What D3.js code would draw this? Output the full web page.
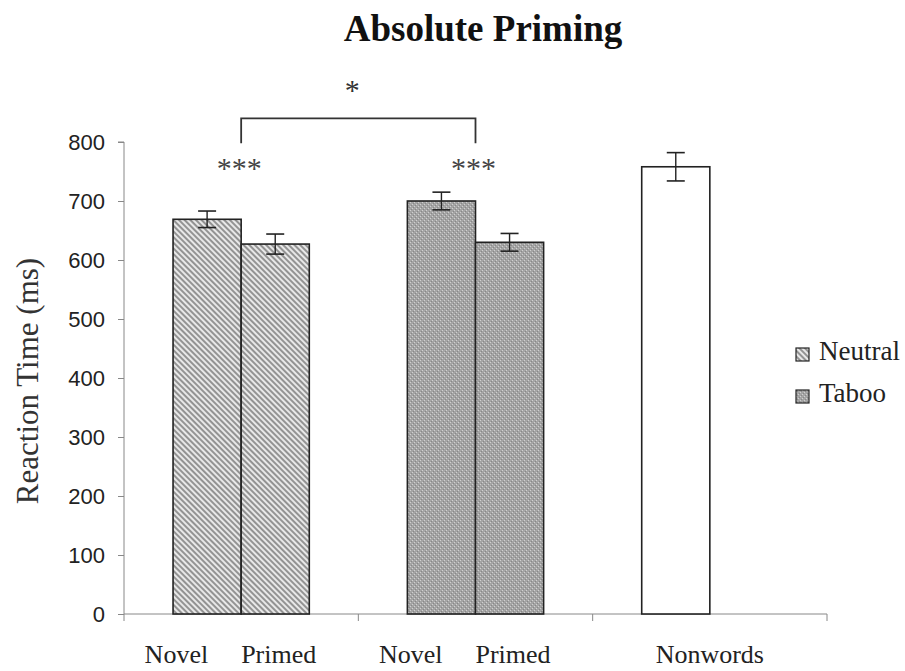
<!DOCTYPE html>
<html><head><meta charset="utf-8">
<script src="https://cdn.jsdelivr.net/npm/d3@7"></script>
<style>body{margin:0;background:#fff}</style>
</head><body>
<script>
const groups = ["Neutral", "Taboo", "Nonwords"];
const conditions = ["Novel", "Primed"];
const neutralMeans = [669, 627];
const neutralErrors = [14, 17];
const tabooMeans = [700, 630];
const tabooErrors = [15, 15];
const nonwordMeans = [758];
const nonwordErrors = [24];
const yTicks = [0, 100, 200, 300, 400, 500, 600, 700, 800];
const legendItems = ["Neutral", "Taboo"];

const W = 905, H = 671;
const svg = d3.select("body").append("svg").attr("width", W).attr("height", H);
const defs = svg.append("defs");

// hatch pattern
const ph = defs.append("pattern").attr("id", "hatch").attr("patternUnits", "userSpaceOnUse")
  .attr("width", 4).attr("height", 4).attr("patternTransform", "rotate(45)");
ph.append("rect").attr("width", 4).attr("height", 4).attr("fill", "#e8e8e8");
ph.append("line").attr("x1", 0).attr("x2", 4).attr("y1", 1).attr("y2", 1).attr("stroke", "#5a5a5a").attr("stroke-width", 1.2);
// dotted pattern
const pd = defs.append("pattern").attr("id", "dots").attr("patternUnits", "userSpaceOnUse")
  .attr("width", 4).attr("height", 4);
pd.append("rect").attr("width", 4).attr("height", 4).attr("fill", "#a4a4a4");
pd.append("rect").attr("x", 0).attr("y", 0).attr("width", 1).attr("height", 1).attr("fill", "#d0d0d0");
pd.append("rect").attr("x", 2).attr("y", 2).attr("width", 1).attr("height", 1).attr("fill", "#d0d0d0");
pd.append("rect").attr("x", 1).attr("y", 3).attr("width", 1).attr("height", 1).attr("fill", "#888");
pd.append("rect").attr("x", 3).attr("y", 1).attr("width", 1).attr("height", 1).attr("fill", "#888");

const fills = {Neutral: "url(#hatch)", Taboo: "url(#dots)", Nonwords: "#fff"};

const x = d3.scaleBand().domain(groups).range([124, 827]).padding(0);
const xs = d3.scaleBand().domain(conditions).range([0, x.bandwidth()]).paddingInner(0).paddingOuter(0.72);
const y = d3.scaleLinear().domain([0, 800]).range([614, 142]);

const data = [];
groups.forEach(g => {
  const m = g === "Neutral" ? neutralMeans : g === "Taboo" ? tabooMeans : nonwordMeans;
  const e = g === "Neutral" ? neutralErrors : g === "Taboo" ? tabooErrors : nonwordErrors;
  m.forEach((v, i) => data.push({g, c: conditions[i], v, e: e[i]}));
});

const serif = "Liberation Serif, Times New Roman, serif";
const sans = "Liberation Sans, Arial, sans-serif";

// title
svg.append("text").attr("x", 483).attr("y", 41).attr("text-anchor", "middle")
  .attr("font-family", serif).attr("font-weight", "bold")
  .attr("font-size", 37).attr("fill", "#111").text("Absolute Priming");

// y axis
const yAxis = d3.axisLeft(y).tickValues(yTicks).tickSize(6).tickPadding(13);
const ga = svg.append("g").attr("transform", "translate(124,0)").call(yAxis);
ga.select(".domain").attr("stroke", "#888").attr("d", `M-6,${y(800)}H0V${y(0)}`);
ga.selectAll(".tick line").attr("stroke", "#888");
ga.selectAll(".tick text").attr("font-family", sans).attr("font-size", 22).attr("fill", "#222");

// x axis
const gx = svg.append("g");
gx.append("line").attr("x1", 124).attr("x2", 827).attr("y1", y(0)).attr("y2", y(0)).attr("stroke", "#888");
const bounds = groups.map(g => x(g)).concat([x(groups[groups.length - 1]) + x.bandwidth()]);
gx.selectAll(".xt").data(bounds).enter().append("line")
  .attr("x1", d => d).attr("x2", d => d).attr("y1", y(0)).attr("y2", y(0) + 7).attr("stroke", "#888");

// bars
svg.selectAll(".bar").data(data).enter().append("rect")
  .attr("x", d => x(d.g) + xs(d.c)).attr("width", xs.bandwidth())
  .attr("y", d => y(d.v)).attr("height", d => y(0) - y(d.v))
  .attr("fill", d => fills[d.g]).attr("stroke", "#222").attr("stroke-width", 1.6);

// error bars
const eb = svg.selectAll(".eb").data(data).enter().append("g")
  .attr("transform", d => `translate(${x(d.g) + xs(d.c) + xs.bandwidth() / 2},0)`);
eb.append("line").attr("y1", d => y(d.v + d.e)).attr("y2", d => y(d.v - d.e)).attr("stroke", "#222").attr("stroke-width", 1.4);
eb.append("line").attr("x1", -9).attr("x2", 9).attr("y1", d => y(d.v + d.e)).attr("y2", d => y(d.v + d.e)).attr("stroke", "#222").attr("stroke-width", 1.6);
eb.append("line").attr("x1", -9).attr("x2", 9).attr("y1", d => y(d.v - d.e)).attr("y2", d => y(d.v - d.e)).attr("stroke", "#222").attr("stroke-width", 1.6);

// x labels
groups.forEach(g => {
  const cx = x(g) + x.bandwidth() / 2;
  if (g === "Nonwords") {
    svg.append("text").attr("x", cx).attr("y", 663).attr("text-anchor", "middle")
      .attr("font-family", serif).attr("font-size", 26).attr("fill", "#222").text(g);
  } else {
    svg.append("text").attr("x", cx - 33).attr("y", 663).attr("text-anchor", "end")
      .attr("font-family", serif).attr("font-size", 26).attr("fill", "#222").text(conditions[0]);
    svg.append("text").attr("x", cx).attr("y", 663).attr("text-anchor", "start")
      .attr("font-family", serif).attr("font-size", 26).attr("fill", "#222").text(conditions[1]);
  }
});

// y label
svg.append("text").attr("transform", "translate(38,381) rotate(-90)").attr("text-anchor", "middle")
  .attr("font-family", serif).attr("font-size", 31).attr("fill", "#333").text("Reaction Time (ms)");

// significance bracket
const bx1 = x("Neutral") + x.bandwidth() / 2, bx2 = x("Taboo") + x.bandwidth() / 2;
svg.append("path").attr("d", `M${bx1},${y(798)}V${y(840)}H${bx2}V${y(798)}`)
  .attr("fill", "none").attr("stroke", "#333").attr("stroke-width", 1.8);
svg.append("text").attr("x", (bx1 + bx2) / 2 - 6).attr("y", 100).attr("text-anchor", "middle")
  .attr("font-family", serif).attr("font-size", 30).attr("fill", "#333").text("*");
[bx1, bx2].forEach(bx => {
  svg.append("text").attr("x", bx - 2).attr("y", 178).attr("text-anchor", "middle")
    .attr("font-family", serif).attr("font-size", 30).attr("fill", "#444").text("***");
});

// legend
const lg = svg.append("g");
legendItems.forEach((it, i) => {
  const ly = 360 + i * 42;
  lg.append("rect").attr("x", 796).attr("y", ly - 12).attr("width", 13).attr("height", 13)
    .attr("fill", fills[it]).attr("stroke", "#222").attr("stroke-width", 1.2);
  lg.append("text").attr("x", 819).attr("y", ly).attr("font-family", serif).attr("font-size", 27)
    .attr("fill", "#222").text(it);
});
</script>
</body></html>
